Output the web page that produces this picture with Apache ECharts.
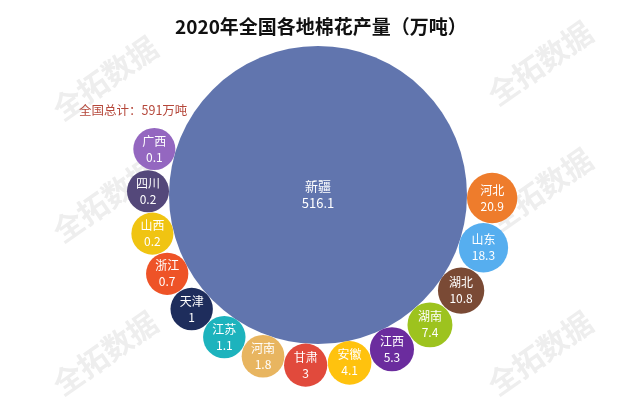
<!DOCTYPE html>
<html>
<head>
<meta charset="utf-8">
<script src="https://cdn.jsdelivr.net/npm/echarts@6/dist/echarts.min.js"></script>
<style>
  html, body { margin: 0; padding: 0; background: #ffffff; }
  #chart { width: 640px; height: 420px; }
</style>
</head>
<body>
<div id="chart"></div>
<script>
// 2020 cotton output by province (10k tonnes)
const provinces = ['新疆', '河北', '山东', '湖北', '湖南', '江西', '安徽', '甘肃', '河南', '江苏', '天津', '浙江', '山西', '四川', '广西'];
const output = [516.1, 20.9, 18.3, 10.8, 7.4, 5.3, 4.1, 3, 1.8, 1.1, 1, 0.7, 0.2, 0.2, 0.1];
const palette = ['#6175AE', '#EE7C2C', '#56AEEF', '#7A4A35', '#9DC31E', '#6B2C9E', '#FFC20E', '#E14A3C',
                 '#E8B560', '#1DB3BD', '#1E2D5C', '#EE5327', '#F0C412', '#54487A', '#9467C0'];
const watermarkText = '全拓数据';

// bubble sizing: the leading region sits in the middle, the rest ring around it
const HUB_DIAMETER = 298;
function diameterOf(v, i) { return i === 0 ? HUB_DIAMETER : 42 + 0.4 * v; }

const total = Math.round(output.reduce((a, b) => a + b, 0));

// place each satellite bubble tangent to the hub and to its predecessor
const HUB_R = HUB_DIAMETER / 2;
const START_ANGLE = 1;
const points = [];
let angle = START_ANGLE, prevR = null, prevD = null;
output.forEach((v, i) => {
  const size = diameterOf(v, i);
  if (i === 0) { points.push([0, 0, size]); return; }
  const r = size / 2;
  const d = HUB_R + r;
  if (prevR !== null) {
    angle += 2 * Math.asin((prevR + r + 0.6) / (prevD + d)) * 180 / Math.PI;
  }
  points.push([d, angle, size]);
  prevR = r; prevD = d;
});

const seriesData = provinces.map((name, i) => ({
  name: name,
  value: [points[i][0], points[i][1]],
  symbolSize: points[i][2],
  itemStyle: { color: palette[i] },
  label: i === 0 ? { fontSize: 13, lineHeight: 17 } : undefined
}));

const wm = (x, y) => ({
  type: 'text', x: x, y: y, z: -10, rotation: 35 * Math.PI / 180,
  style: {
    text: watermarkText, fill: '#eeeeee', fontSize: 30, fontWeight: 'bold',
    fontFamily: 'Noto Sans CJK SC', align: 'center', verticalAlign: 'middle'
  }
});

const chart = echarts.init(document.getElementById('chart'), null, { renderer: 'canvas' });
chart.setOption({
  backgroundColor: '#ffffff',
  animation: false,
  textStyle: { fontFamily: 'Noto Sans CJK SC' },
  title: {
    text: '2020年全国各地棉花产量（万吨）',
    left: 170, top: 12,
    textStyle: { fontSize: 19, fontWeight: 'bold', color: '#111111', fontFamily: 'Noto Sans CJK SC' }
  },
  graphic: [
    wm(105, 78), wm(105, 200), wm(105, 353),
    wm(540, 63), wm(540, 190), wm(540, 353),
    {
      type: 'text', left: 79, top: 104, z: 5,
      style: { text: '全国总计：' + total + '万吨', fill: '#B5473A', fontSize: 12.5, fontFamily: 'Noto Sans CJK SC' }
    }
  ],
  polar: { center: [318, 195], radius: 200 },
  angleAxis: { type: 'value', min: 0, max: 360, startAngle: 0, clockwise: true, show: false },
  radiusAxis: { type: 'value', min: 0, max: 200, show: false },
  series: [{
    type: 'scatter',
    coordinateSystem: 'polar',
    symbol: 'circle',
    data: seriesData,
    itemStyle: { opacity: 1 },
    emphasis: { disabled: true },
    label: {
      show: true,
      position: 'inside',
      color: '#ffffff',
      fontSize: 12,
      lineHeight: 16,
      fontFamily: 'Noto Sans CJK SC',
      formatter: p => p.name + '\n' + output[p.dataIndex]
    }
  }]
});
</script>
</body>
</html>
